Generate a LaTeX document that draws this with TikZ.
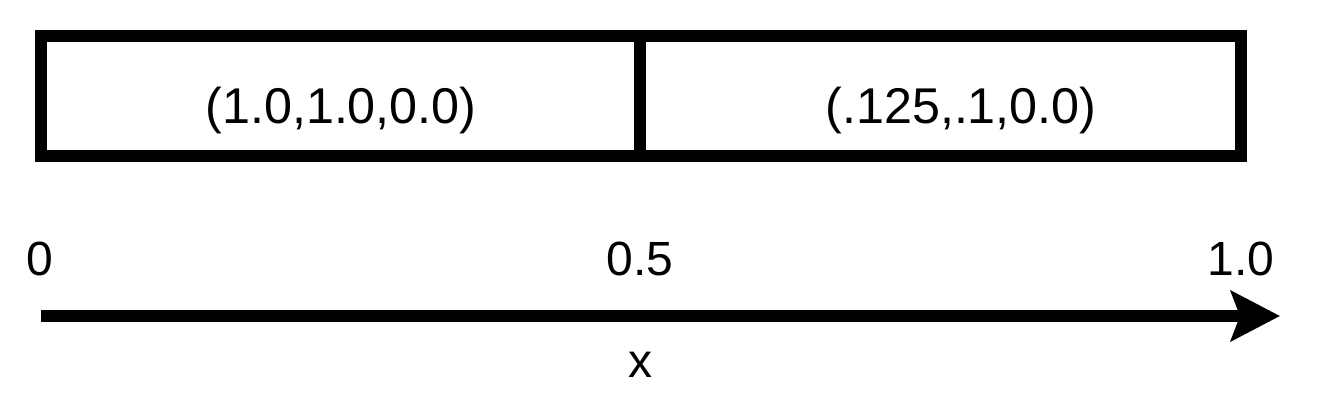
\documentclass[tikz,border=0pt]{standalone}
\usepackage{fontspec}
\setmainfont{Liberation Sans}
\usetikzlibrary{arrows.meta}

\begin{document}
\begin{tikzpicture}[x=0.75pt, y=-0.75pt, line width=9pt,
  lbl/.style={anchor=base, inner sep=0pt, font=\fontsize{36pt}{40pt}\selectfont},
  cell/.style={lbl, font=\fontsize{37.7pt}{42pt}\selectfont}]
\useasboundingbox (0, 0) rectangle (1319, 406);
% the two cells
\draw (41, 36) rectangle (640, 156);
\draw (640, 36) rectangle (1241, 156);
\node[cell](left) at (341, 124) {(1.0,1.0,0.0)};
\node[cell](right) at (961, 124) {(.125,.1,0.0)};
% the axis
\coordinate(start) at (41, 316);
\coordinate(end) at (1280, 316);
\draw[-{Stealth[length=36.75pt, width=37.5pt, inset=6.75pt]}] (start) -- (end);
\node[lbl](zero) at (40, 275) {0};
\node[lbl](half) at (640, 275) {0.5};
\node[lbl](one) at (1241, 275) {1.0};
\node[lbl](x) at (640, 377) {x};
\end{tikzpicture}
\end{document}
